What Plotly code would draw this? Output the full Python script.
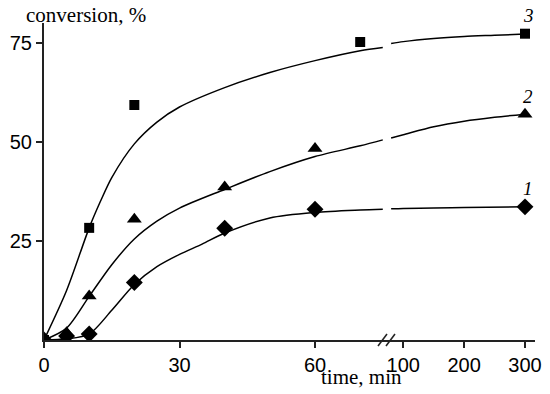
import plotly.graph_objects as go

# ---- measured points ----
t1 = [0, 5, 10, 20, 40, 60]
y1 = [0, 1.0, 1.5, 14.5, 28.2, 33.0]
t1_r = [300]
y1_r = [33.6]

t2 = [0, 5, 10, 20, 40, 60]
y2 = [0, 1.8, 11.1, 30.5, 38.6, 48.3]
t2_r = [300]
y2_r = [57.0]

t3 = [0, 10, 20, 70]
y3 = [0, 28.3, 59.3, 75.2]
t3_r = [300]
y3_r = [77.3]

# ---- fitted curves ----
c1_t = [0, 5, 10, 15, 20, 25, 30, 35, 40, 50, 60, 70, 75]
c1_y = [0, 0.3, 1.5, 7.5, 14.0, 18.5, 21.6, 24.2, 27.0, 30.8, 32.2, 32.8, 33.0]
c1_tr = [80, 100, 150, 200, 300]
c1_yr = [33.1, 33.2, 33.3, 33.45, 33.6]

c2_t = [0, 5, 10, 15, 20, 25, 30, 40, 50, 60, 70, 75]
c2_y = [0, 3.0, 11.0, 19.0, 25.5, 30.0, 33.3, 38.0, 42.5, 46.3, 49.0, 50.5]
c2_tr = [80, 100, 150, 200, 250, 300]
c2_yr = [51.0, 51.8, 53.8, 55.2, 56.2, 57.0]

c3_t = [0, 5, 10, 12.5, 15, 20, 25, 30, 40, 50, 60, 70, 75]
c3_y = [0, 12.5, 28.3, 35.0, 41.0, 49.5, 55.0, 58.8, 63.7, 67.5, 70.5, 73.0, 73.8]
c3_tr = [80, 100, 150, 200, 250, 300]
c3_yr = [74.8, 75.3, 76.1, 76.6, 76.9, 77.2]

y_ticks = [25, 50, 75]
x_ticks_left = [0, 30, 60]
x_ticks_right = [100, 200, 300]
curve_labels = ["1", "2", "3"]

BLACK = "#000000"
fig = go.Figure()

def curve(t, y, xa):
    fig.add_trace(go.Scatter(x=t, y=y, mode="lines", xaxis=xa, yaxis="y",
                             line=dict(color=BLACK, width=1.5, shape="spline", smoothing=0.8),
                             hoverinfo="skip", showlegend=False))

def pts(t, y, xa, symbol, size):
    fig.add_trace(go.Scatter(x=t, y=y, mode="markers", xaxis=xa, yaxis="y",
                             marker=dict(symbol=symbol, size=size, color=BLACK),
                             showlegend=False))

curve(c1_t, c1_y, "x"); curve(c1_tr, c1_yr, "x2")
curve(c2_t, c2_y, "x"); curve(c2_tr, c2_yr, "x2")
curve(c3_t, c3_y, "x"); curve(c3_tr, c3_yr, "x2")

pts(t1, y1, "x", "diamond", 13); pts(t1_r, y1_r, "x2", "diamond", 13)
pts(t2, y2, "x", "triangle-up", 13); pts(t2_r, y2_r, "x2", "triangle-up", 13)
pts(t3, y3, "x", "square", 10); pts(t3_r, y3_r, "x2", "square", 10)

W, H = 550, 394
PL, PR, PT, PB = 44, 535, 23, 340      # plot area in pixels
L, T, R, B = PL, PT, W - PR, H - PB
pw = PR - PL
ph = PB - PT
brk_px = 386
dom_split = (brk_px - PL) / pw
left_range = [0, (brk_px - PL) / 4.517]
right_range = [100 - (403.3 - brk_px) / 0.6085, 300 + (PR - 525) / 0.6085]

tickfont = dict(family="Liberation Sans, Arial", size=20, color=BLACK)
axis_common = dict(showline=True, linecolor="#222222", linewidth=2, ticks="outside",
                   ticklen=6, tickwidth=1.5, tickcolor="#222222", showgrid=False,
                   zeroline=False, tickfont=tickfont, automargin=False)

fig.update_layout(
    width=W, height=H,
    margin=dict(l=L, r=R, t=T, b=B, autoexpand=False),
    plot_bgcolor="white", paper_bgcolor="white",
    xaxis=dict(domain=[0, dom_split], range=left_range, tickvals=x_ticks_left,
               anchor="y", **axis_common),
    xaxis2=dict(domain=[dom_split, 1], range=right_range, tickvals=x_ticks_right,
                anchor="y", **axis_common),
    yaxis=dict(range=[0, 80], tickvals=y_ticks, anchor="x", **axis_common),
)

def px2paper_x(px):
    return (px - PL) / pw

def px2paper_y(py):
    return (PB - py) / ph

# axis break marks
for x0 in (378, 386):
    fig.add_shape(type="line", xref="paper", yref="paper",
                  x0=px2paper_x(x0), y0=px2paper_y(346),
                  x1=px2paper_x(x0 + 9), y1=px2paper_y(334),
                  line=dict(color="#222222", width=1.5))

serif = "Liberation Serif, Times New Roman"
fig.add_annotation(text="conversion, %", xref="paper", yref="paper",
                   x=px2paper_x(86), y=px2paper_y(15), showarrow=False,
                   xanchor="center", yanchor="middle",
                   font=dict(family=serif, size=21, color=BLACK))
fig.add_annotation(text="time, min", xref="paper", yref="paper",
                   x=px2paper_x(361), y=px2paper_y(377), showarrow=False,
                   xanchor="center", yanchor="middle",
                   font=dict(family=serif, size=21, color=BLACK))

for lab, yv in zip(curve_labels, [y1_r[0], y2_r[0], y3_r[0]]):
    fig.add_annotation(text="<i>" + lab + "</i>", xref="x2", yref="y",
                       x=300, y=yv, xshift=3, yshift=18, showarrow=False,
                       xanchor="center", yanchor="middle",
                       font=dict(family=serif, size=19, color=BLACK))

fig.write_html("out.html",
               config={"displayModeBar": False},
               post_script="document.body.style.margin='0';document.body.style.padding='0';")
